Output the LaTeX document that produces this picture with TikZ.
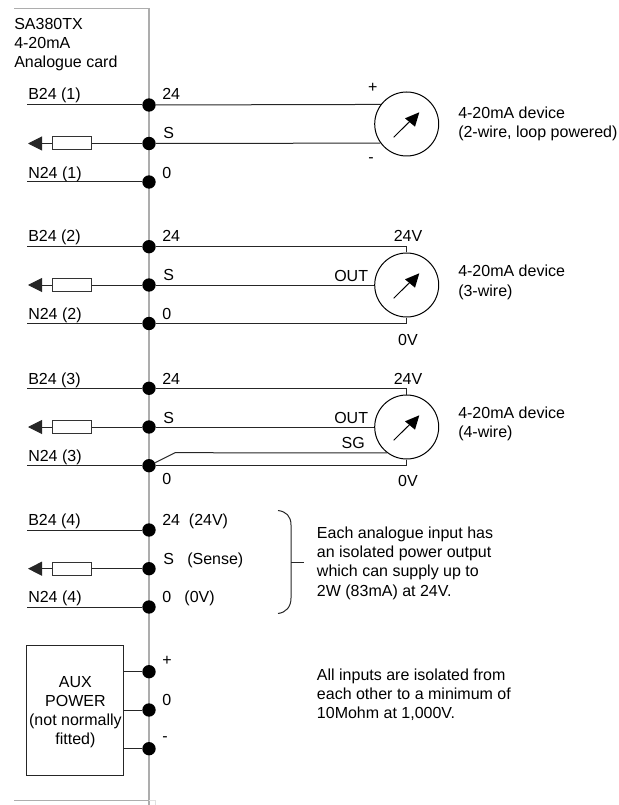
\documentclass[tikz,border=0pt]{standalone}
\usepackage{fontspec}
\setmainfont{Liberation Sans}
\usetikzlibrary{arrows.meta}
\tikzset{
  x=0.75pt,y=-0.75pt,
  wire/.style={draw=black!85,line width=0.75pt},
  rail/.style={draw=black!32,line width=0.9pt},
  dotnode/.style={circle,fill=black,inner sep=0pt,minimum size=10pt},
  res/.style={draw=black!80,fill=white,line width=0.75pt,minimum width=29.25pt,minimum height=9.75pt,inner sep=0pt},
  meter/.style={circle,draw=black,line width=0.75pt,minimum size=48pt,inner sep=0pt},
  auxbox/.style={draw=black!85,line width=0.75pt,minimum width=72.4pt,minimum height=97.3pt,inner sep=0pt},
  txt/.style={anchor=base west,inner sep=0pt,font=\fontsize{12pt}{14pt}\selectfont},
  txtr/.style={anchor=base east,inner sep=0pt,font=\fontsize{12pt}{14pt}\selectfont},
  txtc/.style={anchor=base,inner sep=0pt,font=\fontsize{12pt}{14pt}\selectfont},
  block/.style={anchor=north west,inner sep=0pt,align=left,font=\fontsize{12pt}{14.4pt}\selectfont},
  blockc/.style={anchor=north,inner sep=0pt,align=center,font=\fontsize{12pt}{14.2pt}\selectfont},
  outarrow/.style={wire,-{Triangle[length=10.5pt,width=10.5pt]}},
  needle/.pic={
    \draw[line width=0.7pt,black] (-13,13.3) -- (6,-5.5);
    \fill[black] (12.6,-11.7) -- (-1.7,-5.7) -- (8.3,2.7) -- cycle;
  }
}
\begin{document}
\begin{tikzpicture}
\useasboundingbox (0,0) rectangle (618,805);
% card outline
\coordinate (ct) at (14,8.5);
\coordinate (cc) at (149,8.5);
\coordinate (cb) at (149,805);
\coordinate (bl) at (14,800.5);
\coordinate (br) at (149,800.5);
\coordinate (br2) at (155,800.5);
\coordinate (br3) at (155,805);
\draw[rail] (ct) -- (cc) -- (cb);
\draw[rail] (bl) -- (br);
\draw[draw=black!12,line width=0.75pt] (br) -- (br2) -- (br3);

\node[block] (title) at (14,18) {SA380TX\\4-20mA\\Analogue card};

% terminals
\node[dotnode] (d1a) at (149,105) {};
\node[dotnode] (d1s) at (149,143.5) {};
\node[dotnode] (d1n) at (149,182) {};
\node[dotnode] (d2a) at (149,246.7) {};
\node[dotnode] (d2s) at (149,285) {};
\node[dotnode] (d2n) at (149,323.5) {};
\node[dotnode] (d3a) at (149,388.3) {};
\node[dotnode] (d3s) at (149,427) {};
\node[dotnode] (d3n) at (149,465.7) {};
\node[dotnode] (d4a) at (149,530) {};
\node[dotnode] (d4s) at (149,568.7) {};
\node[dotnode] (d4n) at (149,607) {};
\node[dotnode] (dp) at (149,671.7) {};
\node[dotnode] (d0) at (149,710) {};
\node[dotnode] (dm) at (149,748.7) {};

% left wires
\coordinate (l1a) at (27,105);  \draw[wire] (l1a) -- (d1a);
\coordinate (l1n) at (27,182);  \draw[wire] (l1n) -- (d1n);
\coordinate (l2a) at (27,246.7); \draw[wire] (l2a) -- (d2a);
\coordinate (l2n) at (27,323.5); \draw[wire] (l2n) -- (d2n);
\coordinate (l3a) at (27,388.3); \draw[wire] (l3a) -- (d3a);
\coordinate (l3n) at (27,465.7); \draw[wire] (l3n) -- (d3n);
\coordinate (l4a) at (27,530);  \draw[wire] (l4a) -- (d4a);
\coordinate (l4n) at (27,607);  \draw[wire] (l4n) -- (d4n);

% sense resistors and arrows
\node[res] (r1) at (72,143.5) {};
\node[res] (r2) at (72,285) {};
\node[res] (r3) at (72,427) {};
\node[res] (r4) at (72,568.7) {};
\coordinate (a1) at (28,143.5);
\coordinate (a2) at (28,285);
\coordinate (a3) at (28,427);
\coordinate (a4) at (28,568.7);
\draw[wire] (d1s) -- (r1);
\draw[wire] (d2s) -- (r2);
\draw[wire] (d3s) -- (r3);
\draw[wire] (d4s) -- (r4);
\draw[outarrow] (r1) -- (a1);
\draw[outarrow] (r2) -- (a2);
\draw[outarrow] (r3) -- (a3);
\draw[outarrow] (r4) -- (a4);

% left labels
\node[txt] (tb1) at (28,100) {B24 (1)};
\node[txt] (tn1) at (28,178.3) {N24 (1)};
\node[txt] (tb2) at (28,241.7) {B24 (2)};
\node[txt] (tn2) at (28,319.5) {N24 (2)};
\node[txt] (tb3) at (28,384) {B24 (3)};
\node[txt] (tn3) at (28,461.7) {N24 (3)};
\node[txt] (tb4) at (28,525.7) {B24 (4)};
\node[txt] (tn4) at (28,602.7) {N24 (4)};

% terminal labels
\node[txt] (t1a) at (162,100) {24};
\node[txt] (t1s) at (163,139) {S};
\node[txt] (t1n) at (162,178.3) {0};
\node[txt] (t2a) at (162,241.7) {24};
\node[txt] (t2s) at (163,280.5) {S};
\node[txt] (t2n) at (162,319.5) {0};
\node[txt] (t3a) at (162,384) {24};
\node[txt] (t3s) at (163,423.3) {S};
\node[txt] (t3n) at (162,484) {0};
\node[txt] (t4a) at (162,525.7) {24\ \ (24V)};
\node[txt] (t4s) at (163,564.3) {S\ \ \ (Sense)};
\node[txt] (t4n) at (162,602.7) {0\ \ \ (0V)};
\node[txt] (tp) at (162,665) {+};
\node[txt] (t0) at (162,705) {0};
\node[txt] (tm) at (162,741.6) {-};

% meters
\node[meter] (m1) at (406.7,124) {};
\node[meter] (m2) at (406.7,285) {};
\node[meter] (m3) at (406.7,427) {};
\pic at (406.7,124) {needle};
\pic at (406.7,285) {needle};
\pic at (406.7,427) {needle};

% device 1
\draw[wire] (d1a) -- (m1.143.6);
\draw[wire] (d1s) -- (m1.216.4);
\node[txtc] (mp) at (372.7,92.5) {+};
\node[txtc] (mm) at (371,163) {-};
\node[block] (dev1) at (458,106.7) {4-20mA device\\(2-wire, loop powered)};

% device 2
\draw[wire] (d2a) -| (m2.north);
\draw[wire] (d2s) -- (m2.west);
\draw[wire] (d2n) -| (m2.south);
\node[txtc] (v24b) at (408,241.7) {24V};
\node[txtr] (out2) at (368.3,281.7) {OUT};
\node[txtc] (v0b) at (408,345) {0V};
\node[block] (dev2) at (458,265) {4-20mA device\\(3-wire)};

% device 3
\coordinate (kink) at (175,452.7);
\draw[wire] (d3a) -| (m3.north);
\draw[wire] (d3s) -- (m3.west);
\draw[wire] (d3n) -| (m3.south);
\draw[wire] (d3n) -- (kink) -- (m3.233.4);
\node[txtc] (v24c) at (408,384) {24V};
\node[txtr] (out3) at (368.3,423.3) {OUT};
\node[txtr] (sg3) at (365,448.3) {SG};
\node[txtc] (v0c) at (408,486.7) {0V};
\node[block] (dev3) at (458,406.7) {4-20mA device\\(4-wire)};

% brace
\coordinate (bs) at (278,510.5);
\coordinate (be) at (278,613.5);
\coordinate (bm) at (291,562.3);
\coordinate (bt) at (304,562.3);
\draw[wire] (bs) .. controls (286,511.5) and (291,516) .. (291,525) -- (291,598) .. controls (291,607) and (286,612.5) .. (be);
\draw[wire] (bm) -- (bt);
\node[block] (note1) at (316.7,526.7) {Each analogue input has\\an isolated power output\\which can supply up to\\2W (83mA) at 24V.};

% aux power
\node[auxbox] (aux) at (75.25,710.15) {};
\node[blockc] (auxtxt) at (75.4,676.2) {AUX\\POWER\\(not normally\\fitted)};
\draw[wire] (aux.east |- dp) -- (dp);
\draw[wire] (aux.east |- d0) -- (d0);
\draw[wire] (aux.east |- dm) -- (dm);
\node[block] (note2) at (316.7,668.7) {All inputs are isolated from\\each other to a minimum of\\10Mohm at 1,000V.};
\end{tikzpicture}
\end{document}
